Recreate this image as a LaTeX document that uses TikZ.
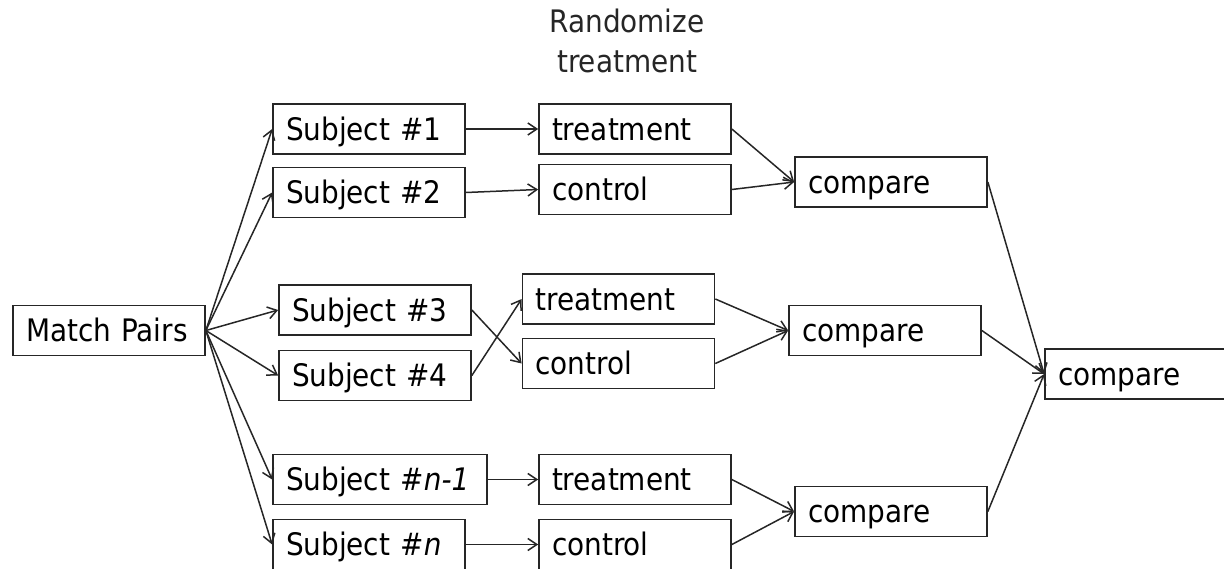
\documentclass[tikz,border=0pt]{standalone}
\usepackage{fontspec}
\setmainfont{DejaVu Sans Condensed}
\usetikzlibrary{arrows.meta}
\begin{document}
\begin{tikzpicture}[x=1pt,y=-1pt,
  bx/.style={draw=black!85, line width=1.7pt, minimum height=50pt, inner xsep=13pt, inner ysep=0pt,
             text width=#1, align=left, font=\fontsize{31}{36}\selectfont, text height=26pt, text depth=4pt},
  bx/.default=166pt,
  ar/.style={-{Straight Barb[length=9pt,width=12pt,line width=1.5pt]}, line width=1.5pt, draw=black!85}]
\useasboundingbox (0,0) rectangle (1224,568);
\node[bx] (mp) at (109,330.5) {Match Pairs};
\node[bx] (s1) at (369,129) {Subject \#1};
\node[bx] (s2) at (369,192.5) {Subject \#2};
\node[bx] (s3) at (375,310) {Subject \#3};
\node[bx] (s4) at (375,375.5) {Subject \#4};
\node[bx=188pt] (sn1) at (380,479.5) {Subject \#\textit{n-1}};
\node[bx] (sn) at (369,544.5) {Subject \#\textit{n}};
\node[bx] (t1) at (635,129) {treatment};
\node[bx] (c1) at (635,189.5) {control};
\node[bx] (t2) at (618.5,299) {treatment};
\node[bx] (c2) at (618.5,363.5) {control};
\node[bx] (t3) at (635,479.5) {treatment};
\node[bx] (c3) at (635,544.5) {control};
\node[bx] (p1) at (891,182) {compare};
\node[bx] (p2) at (885,330.5) {compare};
\node[bx] (p3) at (891,511.5) {compare};
\node[bx] (pf) at (1141,374) {compare};
\node[align=center, font=\fontsize{31}{40}\selectfont, text=black!85] (rt) at (627,41) {Randomize\\treatment};
\foreach \s in {s1,s2,s3,s4,sn1,sn} \draw[ar] (mp.east) -- (\s.west);
\draw[ar] (s1) -- (t1);
\draw[ar] (s2.east) -- (c1.west);
\draw[ar] (s3.east) -- (c2.west);
\draw[ar] (s4.east) -- (t2.west);
\draw[ar] (sn1) -- (t3);
\draw[ar] (sn) -- (c3);
\draw[ar] (t1.east) -- (p1.west);
\draw[ar] (c1.east) -- (p1.west);
\draw[ar] (t2.east) -- (p2.west);
\draw[ar] (c2.east) -- (p2.west);
\draw[ar] (t3.east) -- (p3.west);
\draw[ar] (c3.east) -- (p3.west);
\draw[ar] (p1.east) -- (pf.west);
\draw[ar] (p2.east) -- (pf.west);
\draw[ar] (p3.east) -- (pf.west);
\end{tikzpicture}
\end{document}
